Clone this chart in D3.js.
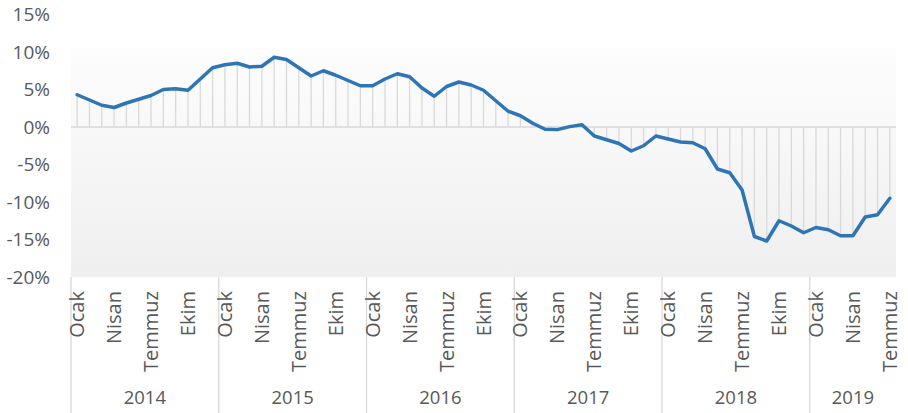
<!DOCTYPE html>
<html lang="tr">
<head>
  <meta charset="UTF-8">
  <title>Aylık değişim</title>
</head>
<style>
  body { margin: 0; background: #fff; }
  text {
    font-family: "Open Sans", "Noto Sans", sans-serif;
    fill: #595959;
  }
  .drop { stroke: #d9d9d9; stroke-width: 1.3px; }
  .zero { stroke: #d9d9d9; stroke-width: 1.5px; }
  .sep { stroke: #d9d9d9; stroke-width: 1.3px; }
  .line { fill: none; stroke: #2e75b6; stroke-width: 3.5px; stroke-linejoin: round; stroke-linecap: round; }
</style>
<body>

<div id="chart"></div>

<script src="https://d3js.org/d3.v7.min.js"></script>

<script>
/* global d3 */

// data: yearly change, monthly from Jan 2014 to Jul 2019
var years = ["2014", "2015", "2016", "2017", "2018", "2019"];
var monthLabels = ["Ocak", "", "", "Nisan", "", "", "Temmuz", "", "", "Ekim", "", ""];
var yTicks = [-20, -15, -10, -5, 0, 5, 10, 15];

var values = [
  4.3, 3.6, 2.9, 2.6, 3.2, 3.7, 4.2, 5.0, 5.1, 4.9, 6.4, 7.9,   // 2014
  8.3, 8.5, 8.0, 8.1, 9.3, 9.0, 7.9, 6.8, 7.5, 6.9, 6.2, 5.5,   // 2015
  5.5, 6.4, 7.1, 6.7, 5.2, 4.1, 5.4, 6.0, 5.6, 4.9, 3.5, 2.1,   // 2016
  1.5, 0.5, -0.3, -0.35, 0.05, 0.3, -1.2, -1.7, -2.2, -3.2, -2.5, -1.2, // 2017
  -1.6, -2.0, -2.1, -2.9, -5.6, -6.1, -8.4, -14.6, -15.2, -12.5, -13.2, -14.1, // 2018
  -13.4, -13.7, -14.5, -14.5, -12.0, -11.7, -9.5              // 2019
];

var width = 908;
var height = 413;
var plotLeft = 71, plotRight = 896, plotTop = 14.5, plotBottom = 277;

var svg = d3.select("#chart")
  .append("svg")
  .attr("width", width)
  .attr("height", height);

var x = d3.scaleBand()
  .domain(d3.range(values.length))
  .range([plotLeft, plotRight])
  .padding(0);

var y = d3.scaleLinear()
  .domain([-20, 15])
  .range([plotBottom, plotTop]);

function cx(i) { return x(i) + x.bandwidth() / 2; }

// plot area background (light gradient)
var grad = svg.append("defs").append("linearGradient")
  .attr("id", "bg")
  .attr("x1", 0).attr("y1", 0).attr("x2", 0).attr("y2", 1);
var gTop = (y(10.5) - plotTop) / (plotBottom - plotTop);
grad.append("stop").attr("offset", 0).attr("stop-color", "#ffffff");
grad.append("stop").attr("offset", gTop).attr("stop-color", "#ffffff");
grad.append("stop").attr("offset", gTop).attr("stop-color", "#fdfdfd");
grad.append("stop").attr("offset", 1).attr("stop-color", "#efefef");

svg.append("rect")
  .attr("x", plotLeft)
  .attr("y", plotTop)
  .attr("width", plotRight - plotLeft)
  .attr("height", plotBottom - plotTop)
  .attr("fill", "url(#bg)");

// y axis labels
svg.append("g")
  .selectAll("text")
  .data(yTicks)
  .enter().append("text")
  .attr("x", 50)
  .attr("y", function(d) { return y(d); })
  .attr("dy", "0.35em")
  .attr("text-anchor", "end")
  .style("font-size", "19px")
  .text(function(d) { return d + "%"; });

// drop lines
svg.append("g")
  .selectAll("line")
  .data(values)
  .enter().append("line")
  .attr("class", "drop")
  .attr("x1", function(d, i) { return cx(i); })
  .attr("x2", function(d, i) { return cx(i); })
  .attr("y1", y(0))
  .attr("y2", function(d) { return y(d); });

// zero line
svg.append("line")
  .attr("class", "zero")
  .attr("x1", plotLeft).attr("x2", plotRight)
  .attr("y1", y(0)).attr("y2", y(0));

// the series
var line = d3.line()
  .x(function(d, i) { return cx(i); })
  .y(function(d) { return y(d); });

svg.append("path")
  .datum(values)
  .attr("class", "line")
  .attr("d", line);

// category axis: months and years
var axis = svg.append("g");

var yearStarts = years.map(function(d, i) { return i * 12; });

axis.selectAll(".sep")
  .data(yearStarts)
  .enter().append("line")
  .attr("class", "sep")
  .attr("x1", function(d) { return x(d); })
  .attr("x2", function(d) { return x(d); })
  .attr("y1", plotBottom)
  .attr("y2", height);

var monthIdx = d3.range(values.length).filter(function(i) { return monthLabels[i % 12] !== ""; });

axis.selectAll(".month")
  .data(monthIdx)
  .enter().append("text")
  .attr("class", "month")
  .attr("transform", function(i) { return "translate(" + cx(i) + ",291) rotate(-90)"; })
  .attr("dy", "0.35em")
  .attr("text-anchor", "end")
  .style("font-size", "20px")
  .text(function(i) { return monthLabels[i % 12]; });

axis.selectAll(".year")
  .data(years)
  .enter().append("text")
  .attr("class", "year")
  .attr("x", function(d, i) {
    var a = x(i * 12);
    var last = Math.min(i * 12 + 11, values.length - 1);
    var b = x(last) + x.bandwidth();
    return (a + b) / 2;
  })
  .attr("y", 398)
  .attr("dy", "0.35em")
  .attr("text-anchor", "middle")
  .style("font-size", "18.5px")
  .text(function(d) { return d; });

</script>

</body>
</html>
